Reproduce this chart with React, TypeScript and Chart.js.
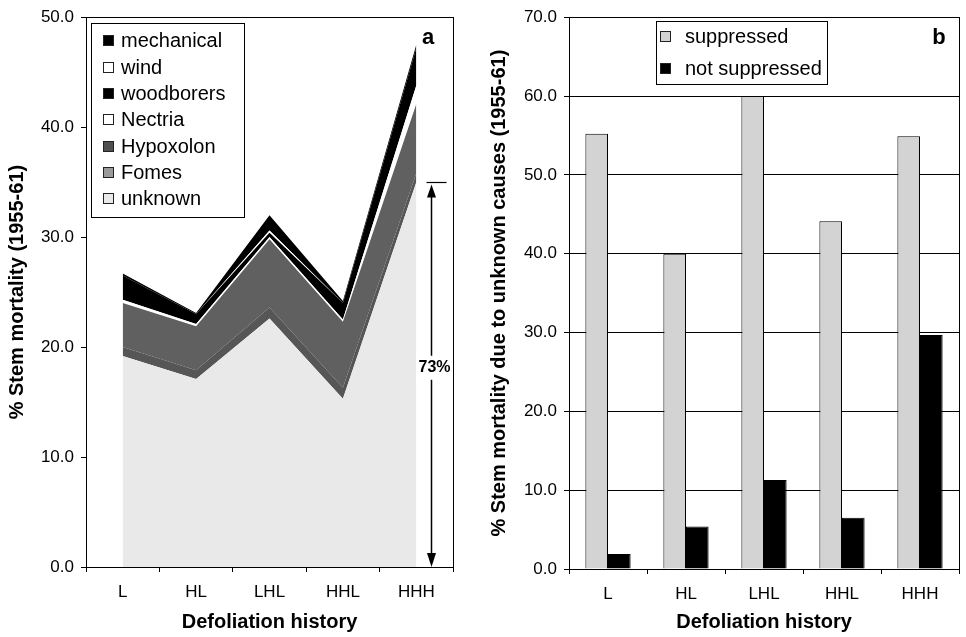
import React, { useEffect, useRef } from "react";
import { Chart, registerables } from "chart.js";
Chart.register(...registerables);

const FONT = "'Liberation Sans', Arial, Helvetica, sans-serif";

// ---------- data ----------
const categories = ["L", "HL", "LHL", "HHL", "HHH"];

// panel a: % stem mortality by cause (stacked, bottom to top)
const unknownVals = [19.2, 17.1, 22.6, 15.3, 35.0];
const fomesVals = [0.8, 0.8, 1.0, 1.0, 0.8];
const hypoxolonVals = [4.0, 4.0, 6.2, 6.0, 6.3];
const nectriaVals = [0.3, 0.2, 0.2, 0.2, 1.7];
const woodborersVals = [2.2, 0.9, 0.4, 1.5, 3.4];
const windVals = [0.0, 0.0, 0.2, 0.0, 0.0];
const mechanicalVals = [0.2, 0.1, 1.4, 0.2, 0.3];
const unknownShareLabel = "73%";

// panel b: % stem mortality due to unknown causes
const suppressedVals = [55.2, 40.0, 60.0, 44.1, 54.9];
const notSuppressedVals = [1.9, 5.4, 11.3, 6.5, 29.7];

const yTicksA = [0, 10, 20, 30, 40, 50];
const yTicksB = [0, 10, 20, 30, 40, 50, 60, 70];

// ---------- plugins ----------
const frame = {
  id: "frame",
  afterDatasetsDraw(chart: any) {
    const { ctx, chartArea: a } = chart;
    ctx.save();
    ctx.strokeStyle = "#000";
    ctx.lineWidth = 1;
    ctx.strokeRect(Math.round(a.left) + 0.5, Math.round(a.top) + 0.5, Math.round(a.right - a.left), Math.round(a.bottom - a.top));
    ctx.restore();
  },
};

const boxLegend = {
  id: "boxLegend",
  afterDraw(chart: any, _args: any, o: any) {
    const { ctx, chartArea } = chart;
    const x0 = Math.round(chartArea.left + o.dx);
    const y0 = Math.round(chartArea.top + o.dy);
    ctx.save();
    ctx.fillStyle = "#fff";
    ctx.fillRect(x0, y0, o.w, o.h);
    ctx.strokeStyle = "#000";
    ctx.lineWidth = 1;
    ctx.strokeRect(x0 + 0.5, y0 + 0.5, o.w, o.h);
    const items = chart.data.datasets.map((d: any) => ({ label: d.label, color: d.swatch || d.backgroundColor }));
    if (o.reverse) items.reverse();
    ctx.font = `${o.fontSize}px ${FONT}`;
    ctx.textBaseline = "middle";
    ctx.textAlign = "left";
    items.forEach((it: any, i: number) => {
      const cy = Math.round(y0 + o.first + i * o.step);
      ctx.fillStyle = it.color;
      ctx.fillRect(x0 + o.sx, cy - 5, 11, 11);
      ctx.strokeStyle = "#222";
      ctx.strokeRect(x0 + o.sx + 0.5, cy - 4.5, 10, 10);
      ctx.fillStyle = "#000";
      ctx.fillText(it.label, x0 + o.tx, cy + 1);
    });
    ctx.restore();
  },
};

const panelLetter = {
  id: "panelLetter",
  afterDraw(chart: any, _args: any, o: any) {
    const { ctx, chartArea } = chart;
    ctx.save();
    ctx.font = `bold 22px ${FONT}`;
    ctx.fillStyle = "#000";
    ctx.textAlign = "center";
    ctx.textBaseline = "middle";
    ctx.fillText(o.text, chartArea.right + o.dx, chartArea.top + o.dy);
    ctx.restore();
  },
};

const shareArrow = {
  id: "shareArrow",
  afterDatasetsDraw(chart: any) {
    const { ctx } = chart;
    const xs = chart.scales.x;
    const ys = chart.scales.y;
    const last = categories.length - 1;
    const step = xs.getPixelForValue(last) - xs.getPixelForValue(last - 1);
    const ax = Math.round(xs.getPixelForValue(last) + step * 0.205) + 0.5;
    const yTop = Math.round(ys.getPixelForValue(unknownVals[last])) + 0.5;
    const yBot = ys.getPixelForValue(0);
    ctx.save();
    ctx.strokeStyle = "#000";
    ctx.fillStyle = "#000";
    ctx.lineWidth = 1.2;
    ctx.beginPath();
    ctx.moveTo(ax - 5, yTop);
    ctx.lineTo(ax + 15, yTop);
    ctx.stroke();
    ctx.lineWidth = 1.5;
    ctx.beginPath();
    ctx.moveTo(ax, yTop + 8);
    ctx.lineTo(ax, yBot - 8);
    ctx.stroke();
    ctx.beginPath();
    ctx.moveTo(ax, yTop + 2);
    ctx.lineTo(ax - 4.5, yTop + 15);
    ctx.lineTo(ax + 4.5, yTop + 15);
    ctx.closePath();
    ctx.fill();
    ctx.beginPath();
    ctx.moveTo(ax, yBot);
    ctx.lineTo(ax - 4.5, yBot - 14);
    ctx.lineTo(ax + 4.5, yBot - 14);
    ctx.closePath();
    ctx.fill();
    const ly = (yTop + yBot) / 2 - 7;
    ctx.font = `bold 16px ${FONT}`;
    const tw = ctx.measureText(unknownShareLabel).width;
    ctx.fillStyle = "#fff";
    ctx.fillRect(ax + 3 - tw / 2 - 2, ly - 12, tw + 4, 24);
    ctx.fillStyle = "#000";
    ctx.textAlign = "center";
    ctx.textBaseline = "middle";
    ctx.fillText(unknownShareLabel, ax + 3, ly);
    ctx.restore();
  },
};

// ---------- shared scale helpers ----------
const tickFont = { family: FONT, size: 17 };
const titleFont = { family: FONT, size: 20, weight: "bold" as const };

function xScale(height: number) {
  return {
    type: "category" as const,
    offset: true,
    grid: { offset: true, drawOnChartArea: false, drawTicks: true, tickLength: 5, color: "#000" },
    border: { display: true, color: "#000", width: 1 },
    ticks: { font: tickFont, color: "#000", padding: 10, maxRotation: 0 },
    title: { display: true, text: "Defoliation history", font: titleFont, color: "#000", padding: { top: 0, bottom: 3 } },
    afterFit: (s: any) => {
      s.height = height;
    },
  };
}

function yScale(max: number, ticks: number[], title: string, width: number, titlePad: number, onArea: boolean) {
  return {
    min: 0,
    max,
    stacked: true,
    afterBuildTicks: (s: any) => {
      s.ticks = ticks.map((v) => ({ value: v }));
    },
    grid: { drawOnChartArea: onArea, drawTicks: true, tickLength: 5, color: "#000", lineWidth: 1 },
    border: { display: true, color: "#000", width: 1 },
    ticks: { font: tickFont, color: "#000", padding: 7, callback: (v: any) => Number(v).toFixed(1) },
    title: { display: true, text: title, font: titleFont, color: "#000", padding: { top: titlePad, bottom: 0 } },
    afterFit: (s: any) => {
      s.width = width;
    },
  };
}

function areaSet(label: string, data: number[], color: string, first: boolean, swatch?: string) {
  return {
    label,
    data,
    backgroundColor: color,
    borderColor: color,
    borderWidth: 0,
    pointRadius: 0,
    tension: 0,
    fill: first ? "origin" : "-1",
    swatch: swatch || color,
  };
}

export default function App() {
  const refA = useRef<HTMLCanvasElement>(null);
  const refB = useRef<HTMLCanvasElement>(null);

  useEffect(() => {
    Chart.defaults.font.family = FONT;
    Chart.defaults.color = "#000";

    const chartA = new Chart(refA.current as HTMLCanvasElement, {
      type: "line",
      data: {
        labels: categories,
        datasets: [
          areaSet("unknown", unknownVals, "#e9e9e9", true),
          areaSet("Fomes", fomesVals, "#565656", false, "#9a9a9a"),
          areaSet("Hypoxolon", hypoxolonVals, "#606060", false, "#4f4f4f"),
          areaSet("Nectria", nectriaVals, "#ffffff", false),
          areaSet("woodborers", woodborersVals, "#000000", false),
          areaSet("wind", windVals, "#ffffff", false),
          areaSet("mechanical", mechanicalVals, "#000000", false),
        ] as any,
      },
      options: {
        animation: false,
        responsive: true,
        maintainAspectRatio: false,
        layout: { padding: { left: 0, top: 14, right: 17, bottom: 0 } },
        scales: {
          x: xScale(70) as any,
          y: yScale(50, yTicksA, "% Stem mortality (1955-61)", 86, 5, false) as any,
        },
        plugins: {
          legend: { display: false },
          tooltip: { enabled: false },
          boxLegend: { dx: 5, dy: 5.5, w: 153, h: 194, sx: 12, tx: 30, first: 17.4, step: 26.3, fontSize: 20, reverse: true },
          panelLetter: { text: "a", dx: -25, dy: 21 },
        } as any,
      },
      plugins: [frame, shareArrow, boxLegend, panelLetter],
    });

    const chartB = new Chart(refB.current as HTMLCanvasElement, {
      type: "bar",
      data: {
        labels: categories,
        datasets: [
          {
            label: "suppressed",
            data: suppressedVals,
            backgroundColor: "#d3d3d3",
            borderColor: "#000",
            borderWidth: 1,
            categoryPercentage: 0.58,
            barPercentage: 1.0,
          },
          {
            label: "not suppressed",
            data: notSuppressedVals,
            backgroundColor: "#000",
            borderColor: "#000",
            borderWidth: 1,
            categoryPercentage: 0.58,
            barPercentage: 1.0,
          },
        ],
      },
      options: {
        animation: false,
        responsive: true,
        maintainAspectRatio: false,
        layout: { padding: { left: 0, top: 14, right: 7, bottom: 0 } },
        scales: {
          x: xScale(68) as any,
          y: { ...(yScale(70, yTicksB, "% Stem mortality due to unknown causes (1955-61)", 99, 17, true) as any), stacked: false },
        },
        plugins: {
          legend: { display: false },
          tooltip: { enabled: false },
          boxLegend: { dx: 87, dy: 4, w: 171, h: 63, sx: 4, tx: 29, first: 15, step: 31.5, fontSize: 20, reverse: false },
          panelLetter: { text: "b", dx: -20, dy: 21 },
        } as any,
      },
      plugins: [frame, boxLegend, panelLetter],
    });

    return () => {
      chartA.destroy();
      chartB.destroy();
    };
  }, []);

  return (
    <div style={{ position: "absolute", left: 0, top: 0, width: 966, height: 637, background: "#fff" }}>
      <div style={{ position: "absolute", left: 0, top: 0, width: 470, height: 637 }}>
        <canvas ref={refA} />
      </div>
      <div style={{ position: "absolute", left: 470, top: 0, width: 496, height: 637 }}>
        <canvas ref={refB} />
      </div>
    </div>
  );
}
